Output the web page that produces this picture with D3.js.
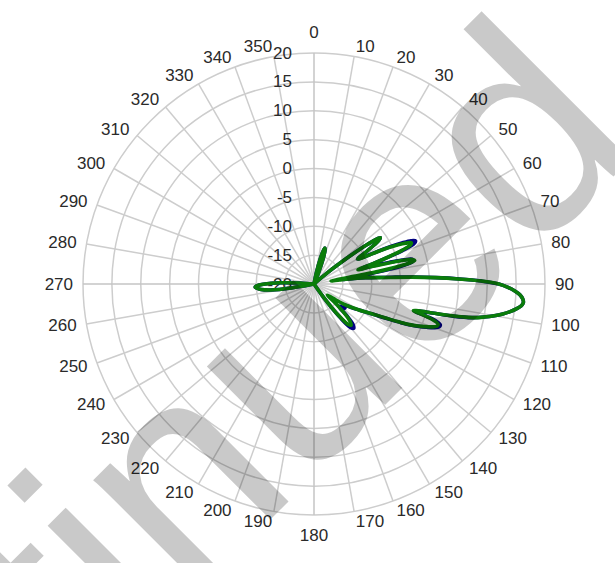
<!DOCTYPE html>
<html><head><meta charset="utf-8">
<script src="https://cdn.jsdelivr.net/npm/d3@7"></script>
<style>body{margin:0;background:#fff}svg{display:block}</style>
</head><body>
<svg id="chart" width="615" height="563"></svg>
<script>
// ---- data ----
const angles = [0,5,10,12,14,16,17,18,20,22,24,30,40,45,48,50,52,53,54,55,56,57,58,59,60,61,62,63,64,65,66,67,68,69,70,71,72,73,74,75,76,77,78,79,80,81,82,83,84,85,86,87,88,89,90,91,92,93,94,95,96,97,98,99,100,101,102,103,104,105,106,107,108,109,110,111,112,113,114,115,116,118,120,122,124,126,128,130,132,134,136,138,140,142,144,146,150,160,180,200,220,240,250,255,258,260,262,264,266,267,268,270,272,274,276,280,300,320,340,350];
const greenDb = [-20,-20,-20,-18,-15.5,-13.8,-13.5,-13.8,-15.5,-18,-20,-20,-20,-20,-19.5,-17,-12.5,-9.5,-7.2,-6,-6.4,-7.6,-9,-10.4,-11.3,-11,-9.6,-7.6,-5.6,-3.9,-2.6,-1.7,-2,-3.6,-6.2,-9.2,-12,-10,-7.4,-4.3,-2.5,-2.1,-4.2,-9,-17,-15.5,-13,-11,-9.5,-7,-3,1,5,9,12,13.6,14.8,15.7,16.2,16.4,16.1,15.3,14.3,13.1,11.7,10,8,4.5,0,-2.2,0,1.8,2.6,2.5,1.7,0.6,-0.6,-2,-3.8,-5.6,-7.2,-9.5,-11,-12.4,-13.8,-15.3,-16.5,-17,-15,-12.6,-11,-10.4,-10.9,-13,-16.5,-20,-20,-20,-20,-20,-20,-20,-20,-20,-19.5,-16,-12.5,-10.8,-10,-9.8,-10,-11.5,-14,-17.5,-20,-20,-20,-20,-20,-20];
const blueDb = [-20,-20,-20,-18,-15.5,-13.8,-13.5,-13.8,-15.5,-18,-20,-20,-20,-20,-19.5,-17,-12.5,-9.5,-7.2,-6,-6.4,-7.6,-9,-10.4,-11.3,-11,-9.6,-7.4,-5.2,-3.2,-1.6,-0.9,-1.3,-3,-5.8,-9,-11.5,-9,-6.5,-3.8,-2.4,-2.4,-3.6,-6.5,-12,-15,-13,-11,-9.3,-6.5,-2.6,1.2,5.2,9,12,13.6,14.8,15.7,16.2,16.4,16.1,15.3,14.3,13.1,11.7,10,8,4.7,0.2,-2,0.3,2.2,3.0,2.9,2.1,0.9,-0.4,-1.8,-3.6,-5.4,-7,-9.4,-11,-12.2,-13.3,-13.5,-13.2,-14,-14.2,-12,-10.3,-9.7,-10.2,-12.5,-16,-20,-20,-20,-20,-20,-20,-20,-20,-20,-19.5,-16,-12.5,-10.8,-10,-9.8,-10,-11.5,-14,-17.5,-20,-20,-20,-20,-20,-20];
const ringTicks = [20,15,10,5,0,-5,-10,-15,-20];
const angleTicks = [0,10,20,30,40,50,60,70,80,90,100,110,120,130,140,150,160,170,180,190,200,210,220,230,240,250,260,270,280,290,300,310,320,330,340,350];
const watermark = "Discontinued";

// ---- layout ----
const cx = 314, cy = 284, R = 231;
const svg = d3.select("#chart");
svg.append("rect").attr("width",615).attr("height",563).attr("fill","#fff");
const g = svg.append("g").attr("transform",`translate(${cx},${cy})`);
const r = d3.scaleLinear().domain([-20,20]).range([0,R]).clamp(true);
const a = d3.scaleLinear().domain([0,360]).range([0,2*Math.PI]);
const font = "'Liberation Sans', Arial, sans-serif";
const fs = 17;

// grid circles
g.append("g").selectAll("circle").data(ringTicks.filter(v=>r(v)>0)).join("circle")
  .attr("r", d=>r(d)).attr("fill","none").attr("stroke","#cdcdcd").attr("stroke-width",1.5);
// spokes
g.append("g").selectAll("line").data(angleTicks).join("line")
  .attr("x1",0).attr("y1",0)
  .attr("x2", d=>R*Math.sin(a(d))).attr("y2", d=>-R*Math.cos(a(d)))
  .attr("stroke", d=> d%90===0 ? "#c4c4c4" : "#cdcdcd").attr("stroke-width",1.5);

// angle labels
const LR = 241;
g.append("g").selectAll("text").data(angleTicks).join("text")
  .each(function(d){
    const t = a(d), s = Math.sin(t), c = Math.cos(t);
    let x = LR*s, y = -LR*c, anchor = "middle";
    if (s > 0.01) anchor = "start"; else if (s < -0.01) anchor = "end";
    else y += c > 0 ? -11 : 10;
    d3.select(this).attr("x",x).attr("y",y).attr("text-anchor",anchor);
  })
  .attr("dominant-baseline","central")
  .attr("font-family",font).attr("font-size",fs).attr("fill","#2a2a2a")
  .text(d=>d);

// radial labels
g.append("g").selectAll("text").data(ringTicks).join("text")
  .attr("x",-22).attr("y", d=>-r(d)).attr("text-anchor","end")
  .attr("dominant-baseline","central")
  .attr("font-family",font).attr("font-size",fs).attr("fill","#2a2a2a")
  .text(d=>d);

// series
const line = d3.lineRadial().angle(d=>a(d[0])).radius(d=>r(d[1])).curve(d3.curveCatmullRomClosed.alpha(0.5));
g.append("path").datum(angles.map((t,i)=>[t,blueDb[i]]))
  .attr("d",line).attr("fill","none").attr("stroke","#000080").attr("stroke-width",3.6).attr("stroke-linejoin","round");
g.append("path").datum(angles.map((t,i)=>[t,greenDb[i]]))
  .attr("d",line).attr("fill","none").attr("stroke","#0a7d0a").attr("stroke-width",3.6).attr("stroke-linejoin","round");

// watermark overlay
svg.append("text").attr("transform","translate(644,146) rotate(-45)")
  .attr("text-anchor","end").attr("font-family",font).attr("font-size",290)
  .attr("fill","#000").attr("fill-opacity",0.21).text(watermark);
</script>
</body></html>
